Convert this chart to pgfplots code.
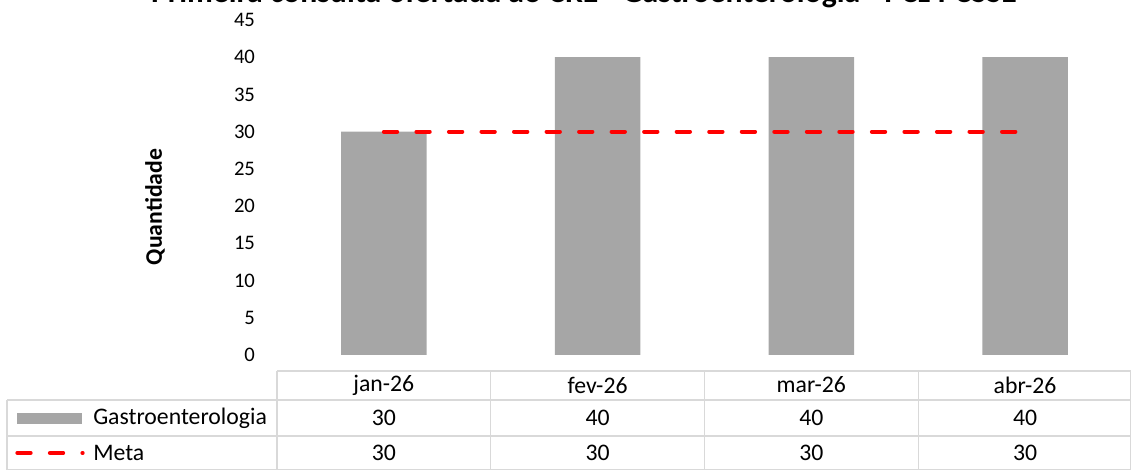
\documentclass[border=0pt]{standalone}
\usepackage{fontspec}
\setmainfont{Carlito}
\usepackage{pgfplots}
\pgfplotsset{compat=1.18}
\definecolor{barGray}{RGB}{166,166,166}
\definecolor{gridGray}{RGB}{217,217,217}
\newcommand{\fs}{\fontsize{15.5}{18}\selectfont}
\newcommand{\ft}{\fontsize{17.8}{20}\selectfont}
\begin{document}
\begin{tikzpicture}[font=\ft]
\useasboundingbox (0,0) rectangle (848.25pt,352.5pt);
\clip (0,0) rectangle (848.25pt,352.5pt);
\begin{axis}[
  at={(207.75pt,86.25pt)}, anchor=south west,
  scale only axis, width=641.25pt, height=251.25pt,
  xmin=-0.5, xmax=3.5, ymin=0, ymax=45,
  ytick={0,5,...,45},
  xtick=\empty,
  axis line style={draw=none},
  major tick length=0pt,
  /pgf/number format/assume math mode=true,
  yticklabel style={font=\fs, xshift=-13pt},
  clip=false,
]
% Gastroenterologia
\addplot[ybar, bar width=0.4, fill=barGray, draw=none] coordinates {
(0,30) (1,40) (2,40) (3,40)
};
% Meta
\addplot[red, line width=3pt, line cap=round, dash pattern=on 10pt off 14.4pt, mark=none] coordinates {
(0,30) (1,30) (2,30) (3,30)
};
\end{axis}

% title (cut at the top, as in the reference)
\node[anchor=base, font=\fontsize{23.8}{26}\selectfont\bfseries] at (438pt,350.25pt)
  {Primeira consulta ofertada ao CRE - Gastroenterologia - PCz PCSSE};
% y label
\node[rotate=90, font=\ft\bfseries] at (116.25pt,197.25pt) {Quantidade};

% data table
\begin{scope}[draw=gridGray, line width=1pt]
\draw (207.75pt,74.25pt) -- (848.25pt,74.25pt);
\draw (5.25pt,52.5pt) -- (848.25pt,52.5pt);
\draw (5.25pt,25.5pt) -- (848.25pt,25.5pt);
\draw (5.25pt,0.5pt) -- (848.25pt,0.5pt);
\draw (5.25pt,0pt) -- (5.25pt,52.5pt);
\foreach \x in {207.75,368.06,528.38,688.69,848.25}
  \draw (\x pt,0pt) -- (\x pt,74.25pt);
\end{scope}
\foreach \x/\m/\g/\t in {287.9/jan-26/30/30, 448.2/fev-26/40/30, 608.5/mar-26/40/30, 768.8/abr-26/40/30} {
  \node at (\x pt,63.75pt) {\m};
  \node at (\x pt,39pt) {\g};
  \node at (\x pt,12.75pt) {\t};
}
\fill[barGray] (12.75pt,34.5pt) rectangle (61.5pt,42.75pt);
\node[anchor=west, inner sep=0pt] at (69.75pt,39pt) {Gastroenterologia};
\draw[red, line width=3pt, line cap=round, dash pattern=on 10pt off 14.4pt] (13pt,12.75pt) -- (62pt,12.75pt);
\node[anchor=west, inner sep=0pt] at (69.75pt,12.75pt) {Meta};
\end{tikzpicture}
\end{document}
